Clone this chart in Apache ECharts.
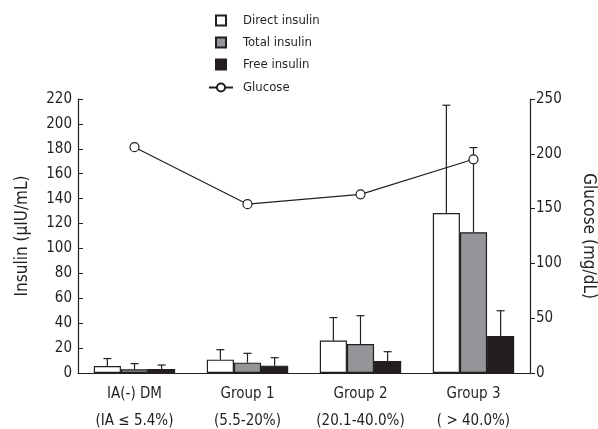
<!DOCTYPE html>
<html>
<head>
<meta charset="utf-8">
<script src="https://cdn.jsdelivr.net/npm/echarts@6/dist/echarts.min.js"></script>
<style>
html,body{margin:0;padding:0;background:#fff;}
#main{width:598px;height:429px;}
</style>
</head>
<body>
<div id="main"></div>
<script>
// ---- data ----
var categories = ['IA(-) DM\n(IA \u2264 5.4%)', 'Group 1\n(5.5-20%)', 'Group 2\n(20.1-40.0%)', 'Group 3\n( > 40.0%)'];
var directInsulin = [5.6, 10.7, 26, 128.5];
var directSD = [6, 8, 18.5, 86.5];
var totalInsulin = [3, 8.3, 23.3, 113];
var totalSD = [4.5, 7.5, 22.7, 68];
var freeInsulin = [3.2, 5.9, 9.6, 29.7];
var freeSD = [3.2, 6.4, 7.5, 20.3];
var glucose = [206, 154, 163, 195];
var insulinTicks = {min: 0, max: 220, interval: 20};
var glucoseTicks = {min: 0, max: 250, interval: 50};

var FONT = "'Liberation Sans Narrow', 'DejaVu Sans Condensed', sans-serif";
var INK = '#231f20';
var CAT_GAP = 0.28;

function errData(mean, sd) {
  return mean.map(function (m, i) { return [i, m, m + sd[i]]; });
}
function errSeries(mean, sd, offset) {
  return {
    type: 'custom',
    yAxisIndex: 0,
    z: 5,
    silent: true,
    encode: {x: 0, y: 2},
    data: errData(mean, sd),
    renderItem: function (params, api) {
      var ci = api.value(0);
      var base = api.coord([ci, api.value(1)]);
      var top = api.coord([ci, api.value(2)]);
      var band = api.size([1, 0])[0];
      var bw = band * (1 - CAT_GAP) / 3;
      var x = base[0] + offset * bw;
      var st = {stroke: INK, lineWidth: 1.2};
      return {
        type: 'group',
        children: [
          {type: 'line', shape: {x1: x, y1: base[1], x2: x, y2: top[1]}, style: st},
          {type: 'line', shape: {x1: x - 4, y1: top[1], x2: x + 4, y2: top[1]}, style: st}
        ]
      };
    }
  };
}

var chart = echarts.init(document.getElementById('main'));
chart.setOption({
  animation: false,
  textStyle: {fontFamily: FONT, color: INK},
  grid: {left: 78, right: 68, top: 99, bottom: 56, containLabel: false, outerBoundsMode: 'none'},
  legend: [{
    data: ['Direct insulin', 'Total insulin', 'Free insulin'],
    orient: 'vertical',
    left: 215, top: 14, padding: 0,
    itemWidth: 10, itemHeight: 10, itemGap: 9,
    icon: 'rect',
    textStyle: {fontFamily: FONT, fontSize: 13, color: INK, padding: [0, 0, 0, 12]}
  }, {
    data: ['Glucose'],
    orient: 'vertical',
    left: 208, top: 81, padding: 0,
    itemWidth: 24, itemHeight: 10,
    textStyle: {fontFamily: FONT, fontSize: 13, color: INK, padding: [0, 0, 0, 5]}
  }],
  xAxis: {
    type: 'category',
    data: categories,
    axisLine: {lineStyle: {color: INK, width: 1.2}},
    axisTick: {show: false},
    axisLabel: {interval: 0, fontFamily: FONT, fontSize: 15, color: INK, lineHeight: 27, margin: 8}
  },
  yAxis: [{
    type: 'value',
    min: insulinTicks.min, max: insulinTicks.max, interval: insulinTicks.interval,
    name: 'Insulin (\u03bcIU/mL)',
    nameLocation: 'middle', nameGap: 47,
    nameTextStyle: {fontFamily: FONT, fontSize: 17, color: INK},
    axisLine: {show: true, lineStyle: {color: INK, width: 1.2}},
    axisTick: {show: true, inside: true, length: 5, lineStyle: {color: INK}},
    axisLabel: {fontFamily: FONT, fontSize: 15, color: INK, margin: 6},
    splitLine: {show: false}
  }, {
    type: 'value',
    position: 'right',
    min: glucoseTicks.min, max: glucoseTicks.max, interval: glucoseTicks.interval,
    name: 'Glucose (mg/dL)',
    nameLocation: 'middle', nameGap: 50, nameRotate: -90,
    nameTextStyle: {fontFamily: FONT, fontSize: 17, color: INK},
    axisLine: {show: true, lineStyle: {color: INK, width: 1.2}},
    axisTick: {show: true, inside: false, length: 5, lineStyle: {color: INK}},
    axisLabel: {fontFamily: FONT, fontSize: 15, color: INK, margin: 6},
    splitLine: {show: false}
  }],
  series: [{
    name: 'Direct insulin', type: 'bar', data: directInsulin,
    barGap: '0%', barCategoryGap: (CAT_GAP * 100) + '%',
    itemStyle: {color: '#ffffff', borderColor: INK, borderWidth: 1.2}
  }, {
    name: 'Total insulin', type: 'bar', data: totalInsulin,
    itemStyle: {color: '#939598', borderColor: INK, borderWidth: 1.2}
  }, {
    name: 'Free insulin', type: 'bar', data: freeInsulin,
    itemStyle: {color: INK, borderColor: INK, borderWidth: 1.2}
  },
  errSeries(directInsulin, directSD, -1),
  errSeries(totalInsulin, totalSD, 0),
  errSeries(freeInsulin, freeSD, 1),
  {
    name: 'Glucose', type: 'line', yAxisIndex: 1, data: glucose,
    z: 10,
    symbol: 'circle', symbolSize: 9,
    lineStyle: {color: INK, width: 1.2},
    itemStyle: {color: '#ffffff', borderColor: INK, borderWidth: 1.2}
  }]
});
</script>
</body>
</html>
